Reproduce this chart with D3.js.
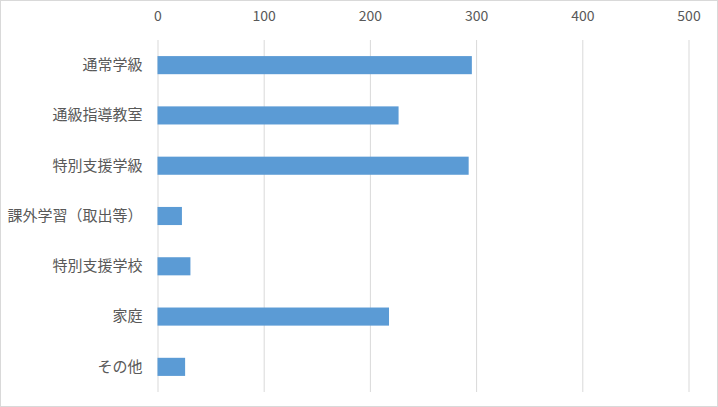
<!DOCTYPE html>
<html><head><meta charset="utf-8">
<script src="https://cdn.jsdelivr.net/npm/d3@7"></script>
<style>body{margin:0;background:#fff}svg{display:block}</style>
</head><body>
<svg id="c" width="718" height="407"></svg>
<script>
const categories = ["通常学級","通級指導教室","特別支援学級","課外学習（取出等）","特別支援学校","家庭","その他"];
const values = [296, 227, 293, 23, 31, 218, 26];
const ticks = [0,100,200,300,400,500];

const svg = d3.select("#c");
const W = 718, H = 407;
const font = "'Noto Sans CJK JP','Noto Sans',sans-serif";
svg.append("rect").attr("x",0.5).attr("y",0.5).attr("width",W-1).attr("height",H-1)
  .attr("fill","#fff").attr("stroke","#d9d9d9");

const x = d3.scaleLinear().domain([0,500]).range([157.5,688.5]);
const y = d3.scaleBand().domain(categories).range([40,392]).paddingInner(0.64).paddingOuter(0.32);

const grid = svg.append("g");
grid.selectAll("line").data(ticks).join("line")
  .attr("x1",d=>x(d)).attr("x2",d=>x(d)).attr("y1",40).attr("y2",392)
  .attr("stroke","#d9d9d9").attr("stroke-width",1)
  .attr("transform","translate(0.5,0)");

const xa = svg.append("g").attr("transform","translate(0,40)")
  .call(d3.axisTop(x).tickValues(ticks).tickSize(0).tickPadding(19));
xa.select(".domain").remove();
xa.selectAll("text").attr("font-family",font).attr("font-size",14).attr("fill","#595959");

svg.append("g").selectAll("rect").data(values).join("rect")
  .attr("x",x(0)).attr("y",(d,i)=>y(categories[i]))
  .attr("width",d=>x(d)-x(0)).attr("height",y.bandwidth())
  .attr("fill","#5b9bd5");

const ya = svg.append("g").attr("transform","translate(157.5,0)")
  .call(d3.axisLeft(y).tickSize(0).tickPadding(15));
ya.select(".domain").remove();
ya.selectAll("text").attr("font-family",font).attr("font-size",15).attr("fill","#595959");
</script>
</body></html>
